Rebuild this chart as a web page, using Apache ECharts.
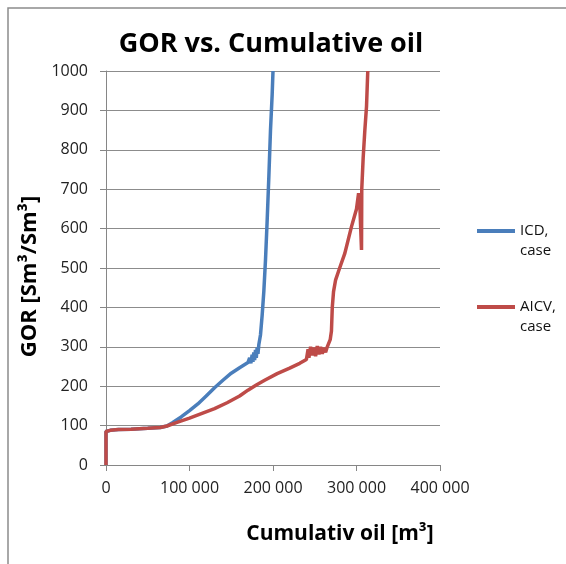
<!DOCTYPE html>
<html>
<head>
<meta charset="utf-8">
<script src="https://cdn.jsdelivr.net/npm/echarts@6/dist/echarts.min.js"></script>
<style>
  html, body { margin: 0; padding: 0; background: #fff; }
  #chart { width: 566px; height: 564px; }
</style>
</head>
<body>
<div id="chart"></div>
<script>
// ICD, case
const icdOil = [0, 0, 5000, 15000, 30000, 50000, 65000, 73000, 80000, 90000, 100000, 110000, 120000, 130000,
  140000, 150000, 160000, 170000, 172000, 173500, 175000, 176000, 177000, 178000, 179000, 180000, 181000,
  182000, 183000, 185000, 187000, 189000, 191000, 193000, 195000, 197000, 199000, 200000]
const icdGor = [0, 85, 88, 90, 91, 93, 95, 99, 108, 122, 138, 155, 175, 196,
  215, 233, 247, 260, 272, 258, 280, 262, 286, 266, 292, 272, 298,
  282, 305, 330, 380, 440, 520, 620, 730, 850, 940, 1000]

// AICV, case
const aicvOil = [0, 0, 5000, 15000, 30000, 50000, 65000, 73000, 85000, 100000, 115000, 130000, 145000, 160000,
  170000, 180000, 190000, 205000, 220000, 232000, 240000, 242000, 243000, 245000, 247000, 249000, 251000,
  253000, 255000, 257000, 259000, 261000, 263000, 265000, 267000, 268500, 270000, 271000, 272500, 275000,
  279000, 286000, 294000, 300000, 302500, 304000, 306000, 306300, 308000, 310000, 312000, 313500]
const aicvGor = [0, 85, 88, 90, 91, 93, 95, 99, 108, 119, 131, 143, 158, 175,
  190, 203, 215, 232, 246, 258, 268, 294, 272, 300, 278, 298, 276,
  302, 281, 300, 282, 298, 286, 300, 298, 318, 340, 400, 440, 470,
  495, 537, 605, 650, 690, 660, 546, 700, 780, 850, 910, 1000]

const seriesNames = ['ICD, case', 'AICV, case']
const seriesColors = ['#4A7EBB', '#BE4B48']

const zip = (xs, ys) => xs.map((x, i) => [x, ys[i]])
const fmtThousands = (v) => String(v).replace(/\B(?=(\d{3})+(?!\d))/g, ' ')

const FONT = 'Open Sans'
const chart = echarts.init(document.getElementById('chart'))

chart.setOption({
  animation: false,
  backgroundColor: '#fff',
  textStyle: { fontFamily: FONT },
  title: {
    text: 'GOR vs. Cumulative oil',
    left: 266,
    top: 26,
    textAlign: 'center',
    textStyle: { fontFamily: FONT, fontSize: 27, fontWeight: 'bold', color: '#000' },
  },
  graphic: [
    {
      type: 'rect',
      shape: { x: 8, y: 8, width: 620, height: 620 },
      style: { fill: 'none', stroke: '#8c8c8c', lineWidth: 1.5 },
      silent: true,
    },
  ],
  legend: {
    orient: 'vertical',
    left: 472,
    top: 196,
    itemGap: 16,
    itemWidth: 38,
    itemHeight: 4,
    icon: 'rect',
    data: seriesNames,
    formatter: (name) => ' \n' + name.replace(', ', ',\n'),
    textStyle: { fontFamily: FONT, fontSize: 15, lineHeight: 20, color: '#111' },
  },
  grid: { left: 106, right: 126, top: 71, bottom: 99, containLabel: false },
  xAxis: {
    type: 'value',
    min: 0,
    max: 400000,
    interval: 100000,
    name: 'Cumulativ oil [m³]',
    nameLocation: 'middle',
    nameGap: 59,
    nameTextStyle: {
      fontFamily: FONT, fontSize: 21, fontWeight: 'bold', color: '#000',
      padding: [0, 0, 0, 134],
    },
    axisLine: { show: true, lineStyle: { color: '#868686', width: 1 } },
    axisTick: { show: true, length: 6, lineStyle: { color: '#868686' } },
    axisLabel: { margin: 15, fontSize: 16, color: '#222', formatter: fmtThousands },
    splitLine: { show: false },
  },
  yAxis: {
    type: 'value',
    min: 0,
    max: 1000,
    interval: 100,
    name: 'GOR [Sm³/Sm³]',
    nameLocation: 'middle',
    nameGap: 63,
    nameRotate: 90,
    nameTextStyle: {
      fontFamily: FONT, fontSize: 22, fontWeight: 'bold', color: '#000',
      padding: [0, 17, 0, 0],
    },
    axisLine: { show: true, lineStyle: { color: '#868686', width: 1 } },
    axisTick: { show: true, length: 6, lineStyle: { color: '#868686' } },
    axisLabel: { margin: 18, fontSize: 16, color: '#222', formatter: (v) => String(v) },
    splitLine: { show: true, lineStyle: { color: '#8c8c8c', width: 1 } },
  },
  series: [
    {
      name: seriesNames[0],
      type: 'line',
      data: zip(icdOil, icdGor),
      showSymbol: false,
      color: seriesColors[0],
      lineStyle: { width: 3.5, color: seriesColors[0] },
    },
    {
      name: seriesNames[1],
      type: 'line',
      data: zip(aicvOil, aicvGor),
      showSymbol: false,
      color: seriesColors[1],
      lineStyle: { width: 3.5, color: seriesColors[1] },
    },
  ],
})
</script>
</body>
</html>
